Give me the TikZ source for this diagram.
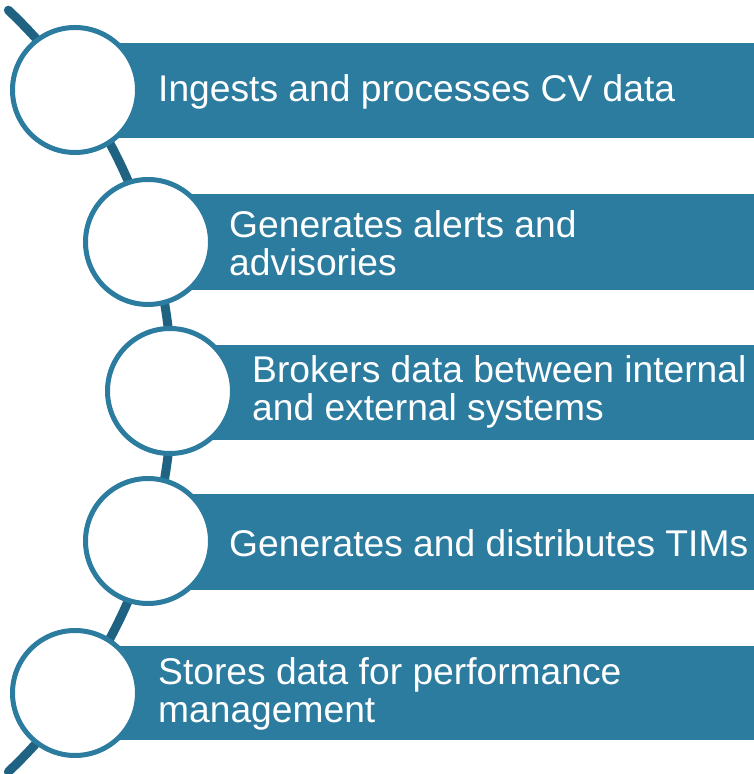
\documentclass[tikz,border=0pt]{standalone}
\usepackage{fontspec}
\setmainfont{Liberation Sans}
\definecolor{barblue}{HTML}{2C7CA0}
\definecolor{arcblue}{HTML}{1F6282}
\begin{document}
\begin{tikzpicture}[x=1pt,y=1pt,
  bar/.style={fill=barblue,draw=none},
  ring/.style={circle,draw=barblue,fill=white,line width=5pt,minimum size=125pt,inner sep=0pt},
  label/.style={anchor=west,text=white,align=left,inner sep=0pt,font=\fontsize{37.2}{38}\selectfont},
  spine/.style={draw=arcblue,line width=9pt,line cap=round}]
\useasboundingbox (0,0) rectangle (753,774);
% bars
\fill[bar] (75,636) rectangle (760,731);
\fill[bar] (148,484) rectangle (760,580);
\fill[bar] (170,334) rectangle (760,429);
\fill[bar] (148,184) rectangle (760,280);
\fill[bar] (75,34) rectangle (760,128);
% spine arc
\coordinate (ac) at (-353,383);
\draw[spine] (ac) ++(46.5:525) arc[start angle=46.5,end angle=-46.5,radius=525];
% circles
\node[ring] (c1) at (75,684) {};
\node[ring] (c2) at (148,532) {};
\node[ring] (c3) at (170,383) {};
\node[ring] (c4) at (148,233) {};
\node[ring] (c5) at (75,81) {};
% labels
\node[label] (t1) at (158,682) {Ingests and processes CV data};
\node[label] (t2) at (229,531) {Generates alerts and\\advisories};
\node[label] (t3) at (252,382) {Brokers data between internal\\and external systems};
\node[label] (t4) at (229,231) {Generates and distributes TIMs};
\node[label] (t5) at (158,80) {Stores data for performance\\management};
\end{tikzpicture}
\end{document}
